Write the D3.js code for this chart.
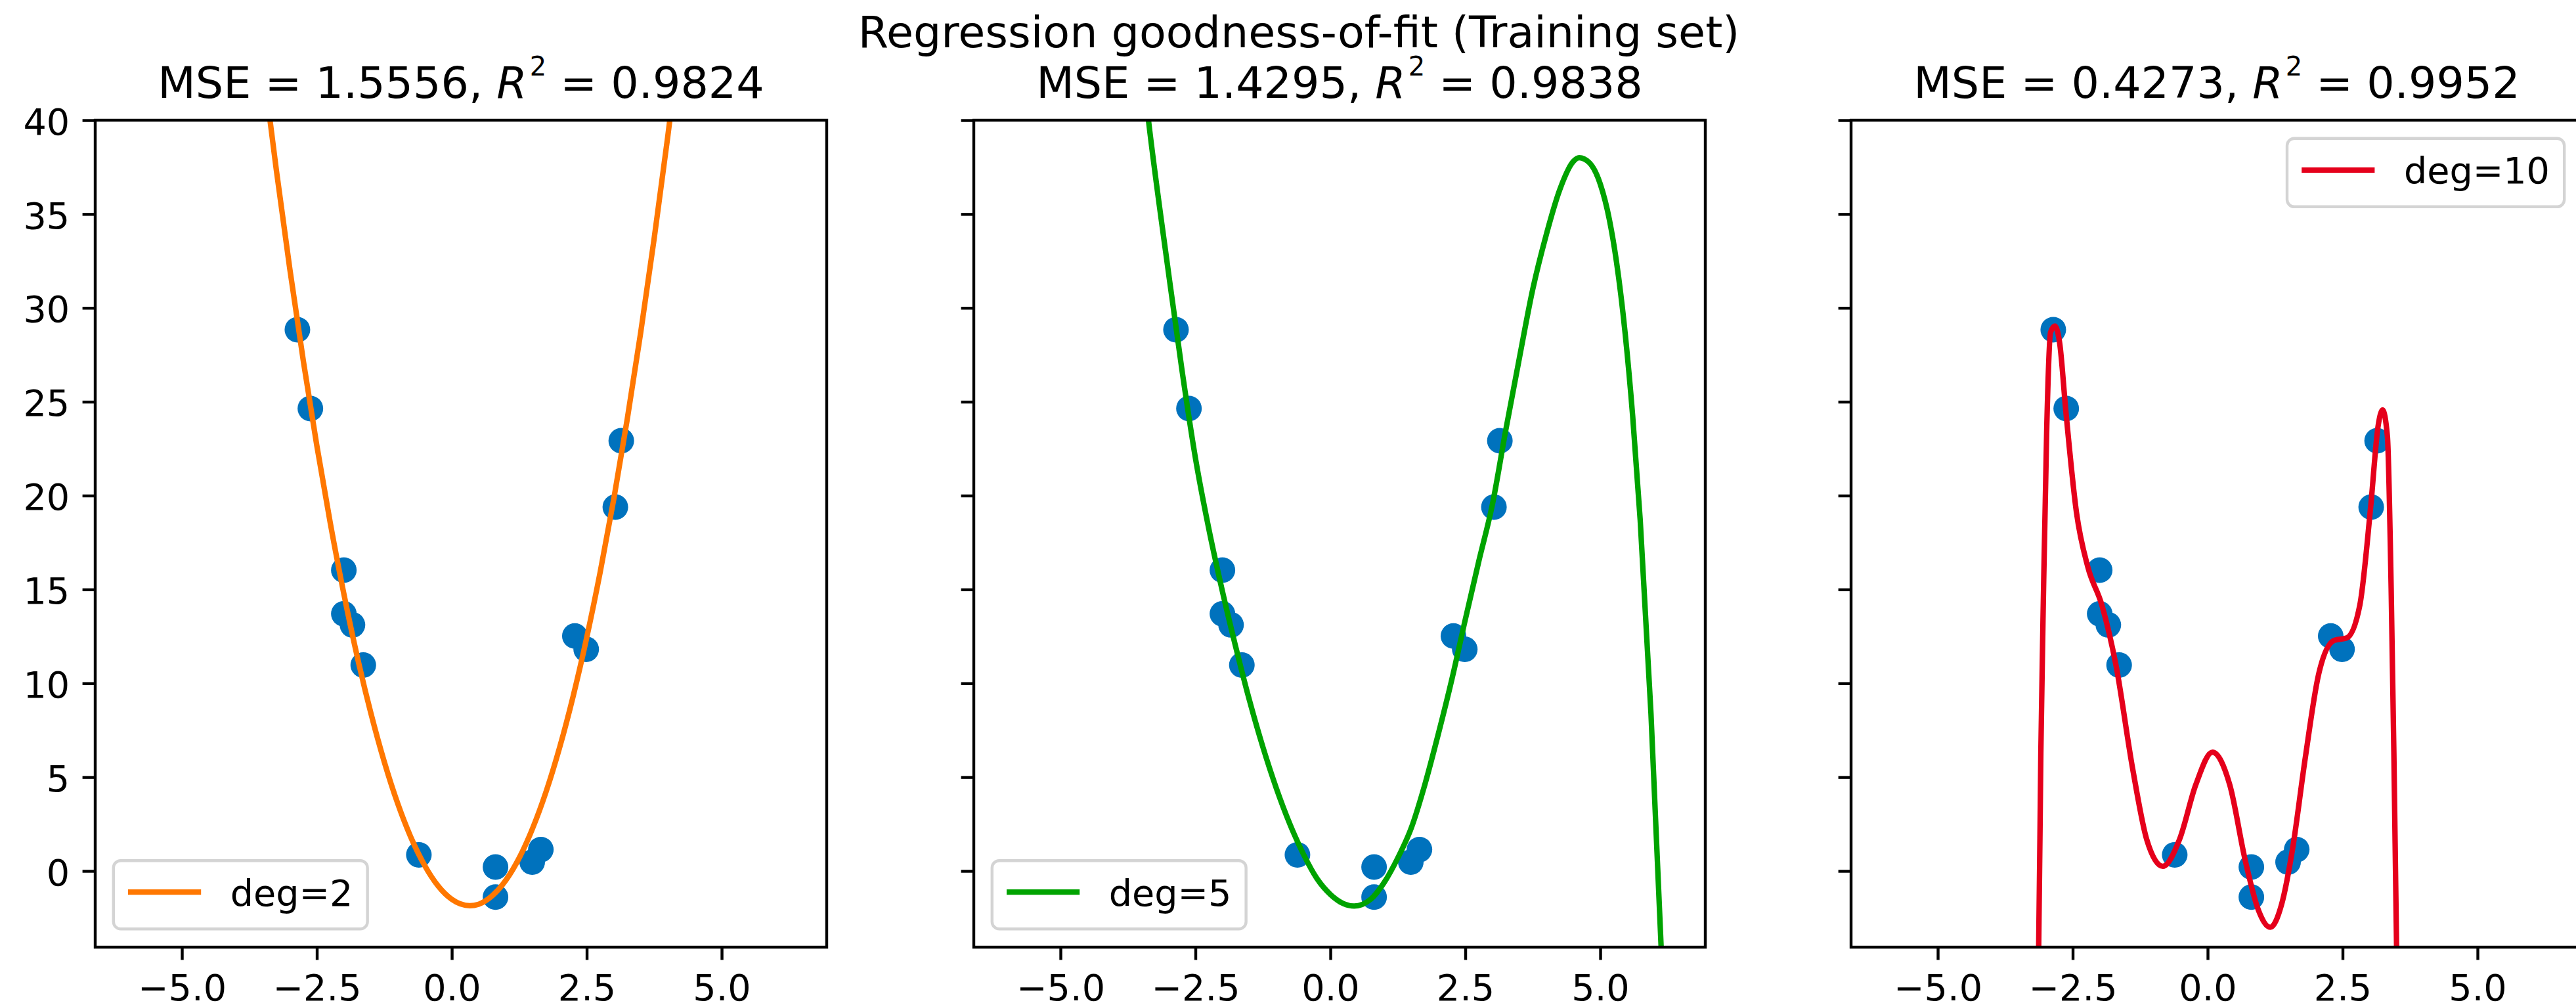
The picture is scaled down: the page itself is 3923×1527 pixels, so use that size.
<!DOCTYPE html>
<html>
<head>
<meta charset="utf-8">
<script src="https://cdn.jsdelivr.net/npm/d3@7"></script>
<style>
  body { margin: 0; background: #fff; }
  text { font-family: "DejaVu Sans"; }
</style>
</head>
<body>
<script>
// values
const degrees = [2, 5, 10];
const mseValues = ['1.5556', '1.4295', '0.4273'];
const r2Values = ['0.9824', '0.9838', '0.9952'];
const lineColors = ['#ff7700', '#00a300', '#e5001b'];
const legendCorner = ['lower left', 'lower left', 'upper right'];
const xTicks = [-5, -2.5, 0, 2.5, 5];
const yTicks = [0, 5, 10, 15, 20, 25, 30, 35, 40];

const trainX = [-2.86, -2.62, -2.00, -2.00, -1.84, -1.64, 3.14, 3.03, 2.28, 2.49, -0.61, 0.81, 0.81, 1.49, 1.65];
const trainY = [28.84, 24.64, 16.03, 13.70, 13.11, 10.97, 22.92, 19.39, 12.52, 11.81, 0.86, 0.21, -1.39, 0.47, 1.14];

const fit2X = [-3.6, -3.5, -3.25, -3.0, -2.75, -2.5, -2.25, -2.0, -1.75, -1.5, -1.25, -1.0, -0.75, -0.5, -0.25, 0, 0.335, 0.5, 0.75, 1.0, 1.25, 1.5, 1.75, 2.0, 2.25, 2.5, 2.75, 3.0, 3.25, 3.5, 3.75, 4.0, 4.2];
const fit2Y = [45.36, 42.99, 37.34, 32.06, 27.17, 22.66, 18.52, 14.77, 11.40, 8.42, 5.81, 3.58, 1.74, 0.28, -0.81, -1.51, -1.85, -1.77, -1.32, -0.50, 0.70, 2.29, 4.25, 6.60, 9.33, 12.44, 15.93, 19.80, 24.06, 28.69, 33.71, 39.10, 43.70];

const fit5X = [-3.45, -3.37, -3.0, -2.75, -2.5, -2.25, -2.0, -1.75, -1.5, -1.25, -1.0, -0.75, -0.5, -0.25, 0, 0.25, 0.44, 0.75, 1.0, 1.25, 1.5, 1.75, 2.0, 2.25, 2.5, 2.75, 3.0, 3.25, 3.5, 3.75, 4.0, 4.25, 4.5, 4.61, 4.8, 5.0, 5.17, 5.3, 5.46, 5.6, 5.74, 5.94, 6.13, 6.2];
const fit5Y = [42.0, 40.0, 31.9, 26.7, 22.0, 18.2, 14.9, 11.9, 9.1, 6.6, 4.4, 2.5, 0.9, -0.4, -1.25, -1.75, -1.87, -1.5, -0.6, 0.7, 2.3, 4.6, 7.3, 10.2, 13.4, 16.5, 19.5, 23.5, 27.3, 31.0, 33.9, 36.3, 37.8, 38.0, 37.73, 36.6, 34.69, 32.47, 28.68, 24.26, 18.7, 8.36, -4.2, -9.6];

const fit10X = [-3.17, -3.13, -3.09, -3.04, -2.98, -2.91, -2.83, -2.74, -2.63, -2.43, -2.22, -1.96, -1.70, -1.39, -1.13, -0.83, -0.52, -0.22, 0.09, 0.41, 0.70, 0.94, 1.16, 1.37, 1.57, 1.81, 2.05, 2.34, 2.58, 2.82, 3.02, 3.16, 3.24, 3.33, 3.40, 3.45, 3.50, 3.53];
const fit10Y = [-7, -4, 6.33, 15.0, 23.7, 28.7, 29.03, 28.1, 24.6, 19.1, 16.2, 14.17, 10.99, 5.46, 1.69, 0.25, 1.69, 4.59, 6.33, 4.59, 0.52, -2.08, -3.0, -1.78, 1.12, 6.05, 10.4, 12.28, 12.42, 14.17, 19.39, 23.74, 24.56, 23.17, 15.05, 6.33, -4, -9];

const fitX = [fit2X, fit5X, fit10X];
const fitY = [fit2Y, fit5Y, fit10Y];

const width = 3923, height = 1527;
const panelLeft = [145, 1483, 2819];
const panelWidth = 1114;
const plotTop = 183, plotBottom = 1442;
const tickFont = 55.6, titleFont = 66.7;

let svg = d3.select('body').append('svg').attr('width', width).attr('height', height);

// suptitle
svg.append('text')
  .attr('x', 1978).attr('y', 72)
  .attr('text-anchor', 'middle')
  .attr('font-size', titleFont)
  .text('Regression goodness-of-fit (Training set)');

degrees.forEach((deg, i) => {
  let left = panelLeft[i], right = left + panelWidth;
  let x = d3.scaleLinear().domain([-6.606, 6.946]).range([left, right]);
  let y = d3.scaleLinear().domain([-4.06, 40]).range([plotBottom, plotTop]);
  let g = svg.append('g');

  g.append('clipPath').attr('id', 'clip' + i)
    .append('rect').attr('x', left).attr('y', plotTop).attr('width', panelWidth).attr('height', plotBottom - plotTop);

  let plot = g.append('g').attr('clip-path', `url(#clip${i})`);

  plot.selectAll('circle')
    .data(trainX.map((d, j) => [d, trainY[j]]))
    .enter()
      .append('circle')
      .attr('cx', d => x(d[0]))
      .attr('cy', d => y(d[1]))
      .attr('r', 19.5)
      .attr('fill', '#0072bd');

  let line = d3.line().x(d => x(d[0])).y(d => y(d[1])).curve(d3.curveMonotoneX);
  plot.append('path')
    .datum(fitX[i].map((d, j) => [d, fitY[i][j]]))
    .attr('d', line)
    .attr('fill', 'none')
    .attr('stroke', lineColors[i])
    .attr('stroke-width', 8.3)
    .attr('stroke-linejoin', 'round');

  // spines
  g.append('rect')
    .attr('x', left).attr('y', plotTop).attr('width', panelWidth).attr('height', plotBottom - plotTop)
    .attr('fill', 'none').attr('stroke', '#000').attr('stroke-width', 4.4);

  let xAxis = d3.axisBottom(x).tickValues(xTicks).tickFormat(d3.format('.1f'))
    .tickSize(19.4).tickPadding(19.4).tickSizeOuter(0);
  g.append('g').attr('transform', `translate(0,${plotBottom})`).call(xAxis)
    .call(a => a.select('.domain').remove())
    .call(a => a.selectAll('line').attr('stroke', '#000').attr('stroke-width', 4.4))
    .call(a => a.selectAll('text').attr('font-size', tickFont).attr('font-family', 'DejaVu Sans')
      .attr('fill', '#000').attr('dy', '0.76em'));

  let yAxis = d3.axisLeft(y).tickValues(yTicks).tickSize(19.4).tickPadding(19.4).tickSizeOuter(0)
    .tickFormat(i == 0 ? d3.format('d') : () => '');
  g.append('g').attr('transform', `translate(${left},0)`).call(yAxis)
    .call(a => a.select('.domain').remove())
    .call(a => a.selectAll('line').attr('stroke', '#000').attr('stroke-width', 4.4))
    .call(a => a.selectAll('text').attr('font-size', tickFont).attr('font-family', 'DejaVu Sans')
      .attr('fill', '#000').attr('dy', '0.38em'));

  // subplot title with R^2
  let title = g.append('text')
    .attr('x', (left + right) / 2).attr('y', 149)
    .attr('text-anchor', 'middle')
    .attr('font-size', titleFont);
  title.append('tspan').text(`MSE = ${mseValues[i]}, `);
  title.append('tspan').attr('font-style', 'italic').text('R');
  title.append('tspan').attr('font-size', 40).attr('dx', 4).attr('dy', -34).text('2');
  title.append('tspan').attr('dy', 34).text(` = ${r2Values[i]}`);

  // legend
  let pad = 27.8, bpad = 22.2, handleLen = 111.2, handlePad = 44.5, bh = 104;
  let lg = g.append('g');
  let rect = lg.append('rect');
  let txt = lg.append('text').attr('font-size', tickFont).text(`deg=${deg}`);
  let tw = txt.node().getComputedTextLength();
  let bw = bpad * 2 + handleLen + handlePad + tw;
  let bx = legendCorner[i] == 'upper right' ? right - pad - bw : left + pad;
  let by = legendCorner[i] == 'upper right' ? plotTop + pad : plotBottom - pad - bh;
  rect.attr('x', bx).attr('y', by).attr('width', bw).attr('height', bh).attr('rx', 11)
    .attr('fill', '#fff').attr('fill-opacity', 0.8)
    .attr('stroke', '#d4d4d4').attr('stroke-width', 4.4);
  lg.append('line')
    .attr('x1', bx + bpad).attr('x2', bx + bpad + handleLen)
    .attr('y1', by + 48).attr('y2', by + 48)
    .attr('stroke', lineColors[i]).attr('stroke-width', 8.3);
  txt.attr('x', bx + bpad + handleLen + handlePad).attr('y', by + 68.5);
});
</script>
</body>
</html>
